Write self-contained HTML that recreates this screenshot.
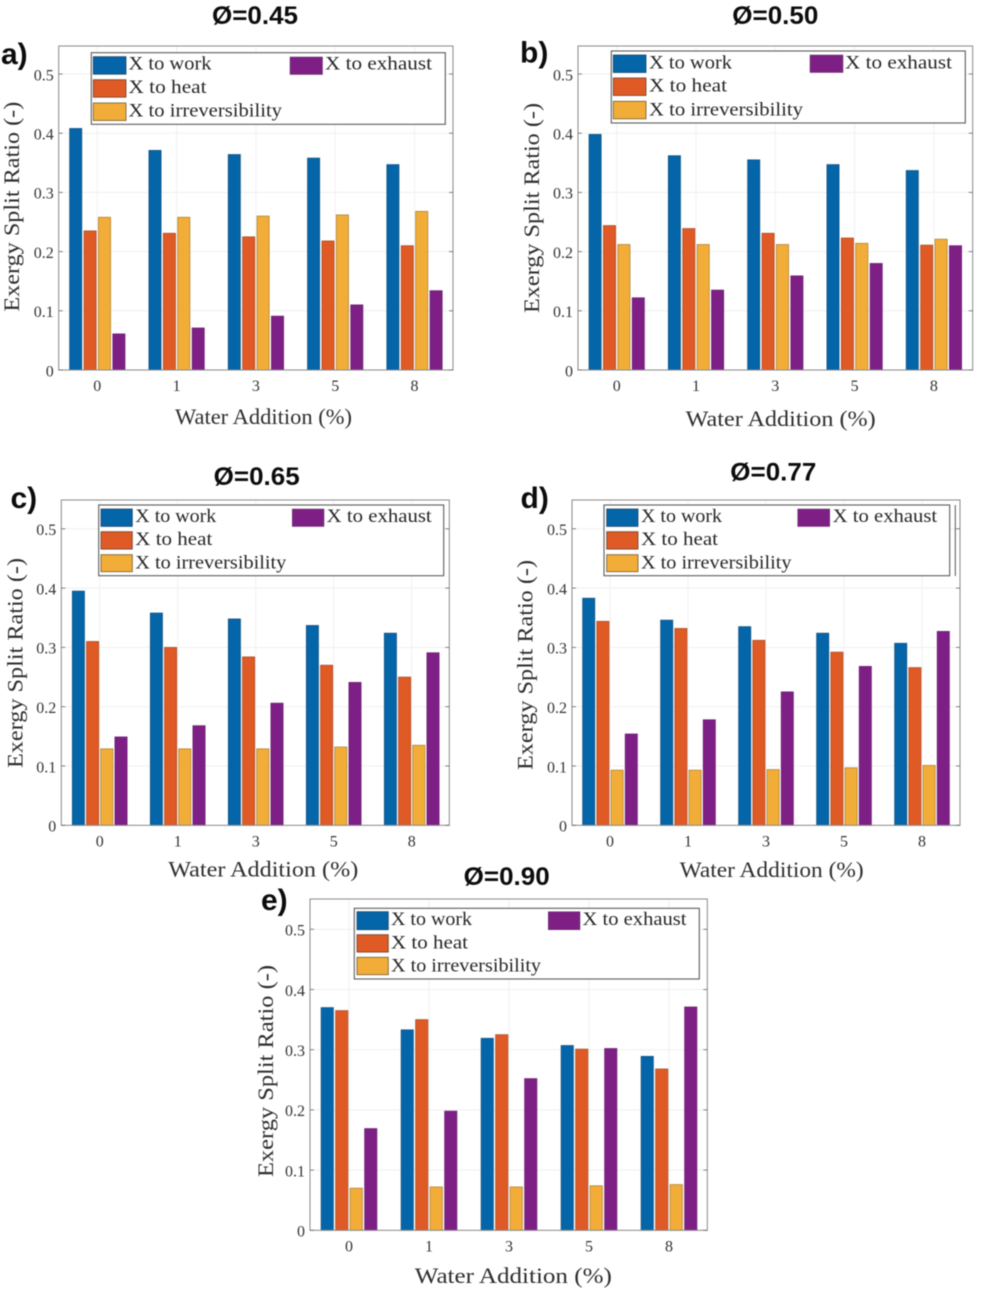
<!DOCTYPE html>
<html lang="en">
<head>
<meta charset="utf-8">
<title>Exergy split ratio versus water addition</title>
<style>
  html, body { margin: 0; padding: 0; background: #fff; }
  body { width: 982px; height: 1292px; overflow: hidden; }
  svg { display: block; filter: blur(0.55px); }
  .serif { font-family: "Liberation Serif", "DejaVu Serif", serif; fill: #2e2e2e; }
  .axis-title { font-size: 22px; }
  .legend-text { font-size: 19px; fill: #262626; }
  .tick-label { font-size: 16px; fill: #333; }
  .bold { font-family: "Liberation Sans", "DejaVu Sans", sans-serif; font-weight: bold; fill: #0c0c0c; }
  .phi-title { font-size: 25px; }
  .panel-letter { font-size: 30px; }
  .legend-box { fill: #fff; stroke: #5c5c5c; stroke-width: 1.1; }
  .sw-work { fill: #0565a9; stroke: #1d4767; stroke-width: 0.8; }
  .sw-heat { fill: #df5a25; stroke: #6d4030; stroke-width: 0.8; }
  .sw-irr { fill: #f2ad38; stroke: #6f5a30; stroke-width: 0.8; }
  .sw-exh { fill: #7e1f86; stroke: #5e3a63; stroke-width: 0.5; }
</style>
</head>
<body>
<svg xmlns="http://www.w3.org/2000/svg" width="982" height="1292" viewBox="0 0 982 1292">

  <!-- Panel a -->
  <g>
    <g id="plot-a"></g>
    <text class="bold phi-title" x="255" y="24" text-anchor="middle" textLength="86" lengthAdjust="spacingAndGlyphs">Ø=0.45</text>
    <text class="bold panel-letter" x="1" y="64">a)</text>
    <text class="serif axis-title" transform="translate(19,206.7) rotate(-90)" text-anchor="middle" textLength="210" lengthAdjust="spacingAndGlyphs">Exergy Split Ratio (-)</text>
    <text class="serif axis-title" x="263.5" y="424" text-anchor="middle" textLength="177" lengthAdjust="spacingAndGlyphs">Water Addition (%)</text>
    <g>
      <rect class="legend-box" x="91.3" y="52.7" width="354" height="71.6"/>
      <rect class="sw-work" x="93.3" y="56.7" width="32.7" height="17.5"/>
      <rect class="sw-heat" x="93.3" y="79.7" width="32.7" height="17.5"/>
      <rect class="sw-irr" x="93.3" y="103" width="32.7" height="17.5"/>
      <rect class="sw-exh" x="290" y="57" width="32.5" height="17.5"/>
      <text class="serif legend-text" x="128.5" y="69.5" textLength="83" lengthAdjust="spacingAndGlyphs">X to work</text>
      <text class="serif legend-text" x="128.5" y="92.8" textLength="78" lengthAdjust="spacingAndGlyphs">X to heat</text>
      <text class="serif legend-text" x="128.5" y="116.5" textLength="153.5" lengthAdjust="spacingAndGlyphs">X to irreversibility</text>
      <text class="serif legend-text" x="325" y="69.5" textLength="107" lengthAdjust="spacingAndGlyphs">X to exhaust</text>
    </g>
  </g>

  <!-- Panel b -->
  <g>
    <g id="plot-b"></g>
    <text class="bold phi-title" x="775.3" y="24" text-anchor="middle" textLength="86" lengthAdjust="spacingAndGlyphs">Ø=0.50</text>
    <text class="bold panel-letter" x="520" y="62.7">b)</text>
    <text class="serif axis-title" transform="translate(539,208) rotate(-90)" text-anchor="middle" textLength="210" lengthAdjust="spacingAndGlyphs">Exergy Split Ratio (-)</text>
    <text class="serif axis-title" x="780.7" y="426" text-anchor="middle" textLength="190" lengthAdjust="spacingAndGlyphs">Water Addition (%)</text>
    <g>
      <rect class="legend-box" x="611.3" y="51" width="354" height="72"/>
      <rect class="sw-work" x="613.3" y="55" width="32.7" height="17.5"/>
      <rect class="sw-heat" x="613.3" y="78" width="32.7" height="17.5"/>
      <rect class="sw-irr" x="613.3" y="101.3" width="32.7" height="17.5"/>
      <rect class="sw-exh" x="810" y="55" width="33" height="17.5"/>
      <text class="serif legend-text" x="649" y="68.3" textLength="83" lengthAdjust="spacingAndGlyphs">X to work</text>
      <text class="serif legend-text" x="649" y="91.6" textLength="78" lengthAdjust="spacingAndGlyphs">X to heat</text>
      <text class="serif legend-text" x="649" y="115.3" textLength="154" lengthAdjust="spacingAndGlyphs">X to irreversibility</text>
      <text class="serif legend-text" x="845" y="68.3" textLength="107" lengthAdjust="spacingAndGlyphs">X to exhaust</text>
    </g>
  </g>

  <!-- Panel c -->
  <g>
    <g id="plot-c"></g>
    <text class="bold phi-title" x="256.7" y="485" text-anchor="middle" textLength="86" lengthAdjust="spacingAndGlyphs">Ø=0.65</text>
    <text class="bold panel-letter" x="10.5" y="508">c)</text>
    <text class="serif axis-title" transform="translate(22.5,663) rotate(-90)" text-anchor="middle" textLength="210" lengthAdjust="spacingAndGlyphs">Exergy Split Ratio (-)</text>
    <text class="serif axis-title" x="263.3" y="876.7" text-anchor="middle" textLength="190" lengthAdjust="spacingAndGlyphs">Water Addition (%)</text>
    <g>
      <rect class="legend-box" x="98.7" y="505" width="345" height="70.7"/>
      <rect class="sw-work" x="101" y="509" width="31.3" height="17.4"/>
      <rect class="sw-heat" x="101" y="531.7" width="31.3" height="17.4"/>
      <rect class="sw-irr" x="101" y="554.7" width="31.3" height="17"/>
      <rect class="sw-exh" x="292.3" y="509" width="31.7" height="17.5"/>
      <text class="serif legend-text" x="135.3" y="522" textLength="81" lengthAdjust="spacingAndGlyphs">X to work</text>
      <text class="serif legend-text" x="135.3" y="545" textLength="77" lengthAdjust="spacingAndGlyphs">X to heat</text>
      <text class="serif legend-text" x="135.3" y="568.3" textLength="151" lengthAdjust="spacingAndGlyphs">X to irreversibility</text>
      <text class="serif legend-text" x="326.7" y="522" textLength="105" lengthAdjust="spacingAndGlyphs">X to exhaust</text>
    </g>
  </g>

  <!-- Panel d -->
  <g>
    <g id="plot-d"></g>
    <text class="bold phi-title" x="773.3" y="480.7" text-anchor="middle" textLength="86" lengthAdjust="spacingAndGlyphs">Ø=0.77</text>
    <text class="bold panel-letter" x="520.5" y="508">d)</text>
    <text class="serif axis-title" transform="translate(532.5,665) rotate(-90)" text-anchor="middle" textLength="210" lengthAdjust="spacingAndGlyphs">Exergy Split Ratio (-)</text>
    <text class="serif axis-title" x="771.7" y="877" text-anchor="middle" textLength="184" lengthAdjust="spacingAndGlyphs">Water Addition (%)</text>
    <line x1="955.3" y1="505" x2="955.3" y2="576" stroke="#555" stroke-width="1"/>
    <g>
      <rect class="legend-box" x="604" y="505" width="345.7" height="70.7"/>
      <rect class="sw-work" x="606.7" y="509" width="31.3" height="17.4"/>
      <rect class="sw-heat" x="606.7" y="531.7" width="31.3" height="17.4"/>
      <rect class="sw-irr" x="606.7" y="554.7" width="31.3" height="17"/>
      <rect class="sw-exh" x="797.7" y="509" width="32" height="17.5"/>
      <text class="serif legend-text" x="641" y="522" textLength="81" lengthAdjust="spacingAndGlyphs">X to work</text>
      <text class="serif legend-text" x="641" y="545" textLength="77" lengthAdjust="spacingAndGlyphs">X to heat</text>
      <text class="serif legend-text" x="641" y="568.3" textLength="150.5" lengthAdjust="spacingAndGlyphs">X to irreversibility</text>
      <text class="serif legend-text" x="832.7" y="522" textLength="104.5" lengthAdjust="spacingAndGlyphs">X to exhaust</text>
    </g>
  </g>

  <!-- Panel e -->
  <g>
    <g id="plot-e"></g>
    <text class="bold phi-title" x="506.7" y="885" text-anchor="middle" textLength="86" lengthAdjust="spacingAndGlyphs">Ø=0.90</text>
    <text class="bold panel-letter" x="261" y="910">e)</text>
    <text class="serif axis-title" transform="translate(273,1071) rotate(-90)" text-anchor="middle" textLength="212" lengthAdjust="spacingAndGlyphs">Exergy Split Ratio (-)</text>
    <text class="serif axis-title" x="513.3" y="1283" text-anchor="middle" textLength="197" lengthAdjust="spacingAndGlyphs">Water Addition (%)</text>
    <g>
      <rect class="legend-box" x="354.3" y="908.3" width="345" height="70.7"/>
      <rect class="sw-work" x="357" y="911.7" width="31.3" height="18"/>
      <rect class="sw-heat" x="357" y="934.7" width="31.3" height="17.4"/>
      <rect class="sw-irr" x="357" y="957.3" width="31.3" height="17.4"/>
      <rect class="sw-exh" x="548.3" y="911.7" width="31.7" height="18"/>
      <text class="serif legend-text" x="391" y="925" textLength="81" lengthAdjust="spacingAndGlyphs">X to work</text>
      <text class="serif legend-text" x="391" y="948.3" textLength="77" lengthAdjust="spacingAndGlyphs">X to heat</text>
      <text class="serif legend-text" x="391" y="971.7" textLength="150" lengthAdjust="spacingAndGlyphs">X to irreversibility</text>
      <text class="serif legend-text" x="582.5" y="925" textLength="104" lengthAdjust="spacingAndGlyphs">X to exhaust</text>
    </g>
  </g>
</svg>

<script>
// Shared axis labels
var categories = ['0', '1', '3', '5', '8'];
var yTickValues = [0, 0.1, 0.2, 0.3, 0.4, 0.5];
var yTickLabels = ['0', '0.1', '0.2', '0.3', '0.4', '0.5'];
var seriesNames = ['work', 'heat', 'irreversibility', 'exhaust'];

// Panel a, phi = 0.45
var workA = [0.408, 0.371, 0.364, 0.358, 0.347];
var heatA = [0.235, 0.231, 0.225, 0.218, 0.210];
var irrevA = [0.258, 0.258, 0.260, 0.262, 0.268];
var exhaustA = [0.061, 0.071, 0.091, 0.110, 0.134];

// Panel b, phi = 0.50
var workB = [0.398, 0.362, 0.355, 0.347, 0.337];
var heatB = [0.244, 0.239, 0.231, 0.223, 0.211];
var irrevB = [0.212, 0.212, 0.212, 0.214, 0.221];
var exhaustB = [0.122, 0.135, 0.159, 0.180, 0.210];

// Panel c, phi = 0.65
var workC = [0.395, 0.358, 0.348, 0.337, 0.324];
var heatC = [0.310, 0.300, 0.284, 0.270, 0.250];
var irrevC = [0.129, 0.129, 0.129, 0.132, 0.135];
var exhaustC = [0.149, 0.168, 0.206, 0.241, 0.291];

// Panel d, phi = 0.77
var workD = [0.383, 0.346, 0.335, 0.324, 0.307];
var heatD = [0.344, 0.332, 0.312, 0.292, 0.266];
var irrevD = [0.093, 0.093, 0.094, 0.097, 0.101];
var exhaustD = [0.154, 0.178, 0.225, 0.268, 0.327];

// Panel e, phi = 0.90
var workE = [0.370, 0.333, 0.319, 0.307, 0.289];
var heatE = [0.365, 0.350, 0.325, 0.301, 0.268];
var irrevE = [0.070, 0.072, 0.072, 0.074, 0.076];
var exhaustE = [0.169, 0.198, 0.252, 0.302, 0.371];

var SVG_NS = 'http://www.w3.org/2000/svg';
var barFills = ['#0565a9', '#df5a25', '#f2ad38', '#7e1f86'];
var barEdges = ['#12507f', '#a84a25', '#a87c2c', '#6a1f72'];

function shape(parent, tag, attrs) {
  var el = document.createElementNS(SVG_NS, tag);
  for (var k in attrs) el.setAttribute(k, attrs[k]);
  parent.appendChild(el);
  return el;
}

function drawPanel(p) {
  var root = document.getElementById('plot-' + p.id);
  var bottom = p.y0;
  function yAxis(v) { return p.y0 - v * p.pxPerUnit; }
  function xAxis(i) { return p.x0 + i * p.step; }

  // Background gridlines
  yTickValues.forEach(function (v, i) {
    if (v === 0) return;
    var g = shape(root, 'line', { x1: p.left, x2: p.right, y1: yAxis(v), y2: yAxis(v), stroke: '#efefef', 'stroke-width': 1 });
    
    
  });
  categories.forEach(function (c, i) {
    var g = shape(root, 'line', { x1: xAxis(i), x2: xAxis(i), y1: p.top, y2: bottom, stroke: '#f1f1f1', 'stroke-width': 1 });
    
    
  });

  // Bars
  p.series.forEach(function (values, s) {
    values.forEach(function (v, i) {
      var cx = xAxis(i) + (s - 1.5) * p.barStep;
      var bar = shape(root, 'rect', {
        x: cx - p.barWidth / 2,
        y: yAxis(v),
        width: p.barWidth,
        height: p.y0 - yAxis(v),
        fill: barFills[s],
        stroke: barEdges[s],
        'stroke-width': 0.7
      });
      
      
    });
  });

  // Plot frame
  var frame = shape(root, 'rect', { x: p.left, y: p.top, width: p.right - p.left, height: bottom - p.top, fill: 'none', stroke: '#8a8a8a', 'stroke-width': 1 });
  
  

  // Y ticks and labels
  yTickValues.forEach(function (v, i) {
    var y = yAxis(v);
    var tl = shape(root, 'line', { x1: p.left, x2: p.left + 4, y1: y, y2: y, stroke: '#666', 'stroke-width': 0.8 });
    
    
    var tr = shape(root, 'line', { x1: p.right - 4, x2: p.right, y1: y, y2: y, stroke: '#666', 'stroke-width': 0.8 });
    
    
    var t = shape(root, 'text', { x: p.left - 5, y: y + 6.3, 'text-anchor': 'end', 'class': 'serif tick-label' });
    t.textContent = yTickLabels[i];
    
    
  });

  // X tick labels
  categories.forEach(function (c, i) {
    var t = shape(root, 'text', { x: xAxis(i), y: bottom + 21, 'text-anchor': 'middle', 'class': 'serif tick-label' });
    t.textContent = c;
    
    
  });
}

drawPanel({ id: 'a', left: 58.7, right: 453, top: 46, y0: 370, pxPerUnit: 592, x0: 97.3, step: 79.3, barStep: 14.4, barWidth: 12.2, series: [workA, heatA, irrevA, exhaustA] });
drawPanel({ id: 'b', left: 578, right: 972.7, top: 46, y0: 370, pxPerUnit: 592, x0: 616.7, step: 79.3, barStep: 14.4, barWidth: 12.2, series: [workB, heatB, irrevB, exhaustB] });
drawPanel({ id: 'c', left: 61.3, right: 449.3, top: 500, y0: 825.3, pxPerUnit: 593, x0: 99.7, step: 78, barStep: 14.2, barWidth: 12.2, series: [workC, heatC, irrevC, exhaustC] });
drawPanel({ id: 'd', left: 572, right: 960, top: 500, y0: 825.3, pxPerUnit: 593, x0: 610, step: 78, barStep: 14.2, barWidth: 12.2, series: [workD, heatD, irrevD, exhaustD] });
drawPanel({ id: 'e', left: 310, right: 707.3, top: 899, y0: 1230.3, pxPerUnit: 602, x0: 349, step: 80, barStep: 14.5, barWidth: 12.3, series: [workE, heatE, irrevE, exhaustE] });
</script>
</body>
</html>
